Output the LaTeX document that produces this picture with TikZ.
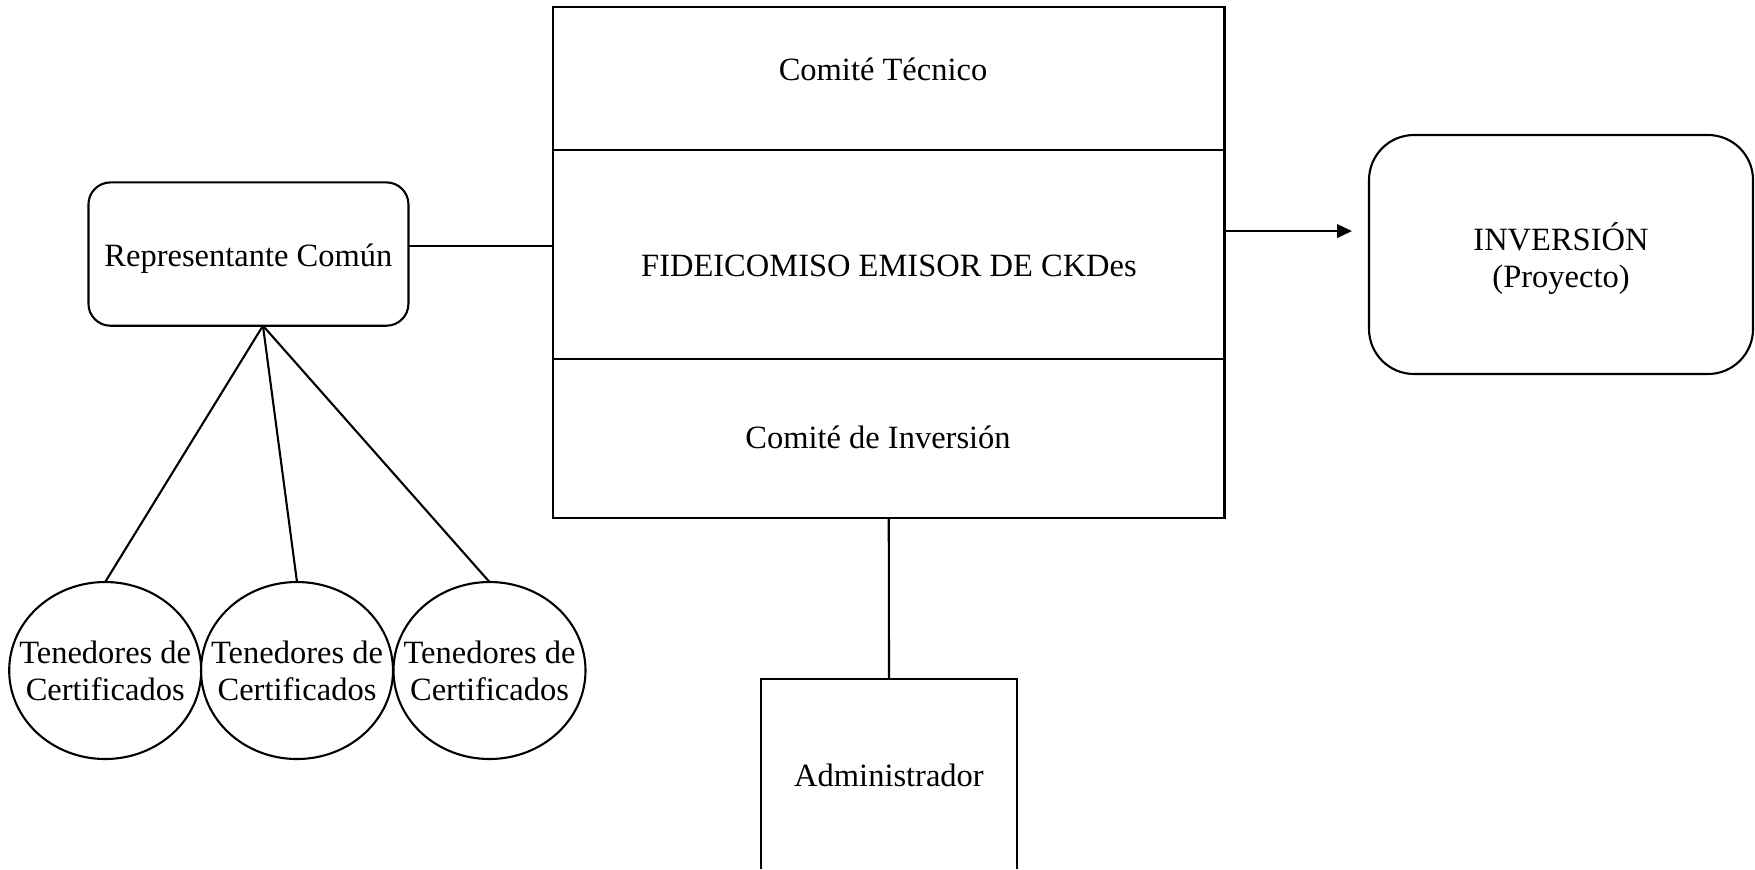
\documentclass[tikz,border=0pt]{standalone}
\usepackage{fontspec}
\setmainfont{Liberation Serif}
\usetikzlibrary{shapes.geometric,arrows.meta}
\begin{document}
\begin{tikzpicture}[x=0.5pt,y=-0.5pt,
  every node/.style={font=\fontsize{16.25pt}{18.5pt}\selectfont},
  cell/.style={draw,line width=1.05pt,inner sep=0pt,outer sep=0pt,minimum width=335.75pt},
  rbox/.style={draw,line width=1.05pt,inner sep=0pt,outer sep=0pt,align=center},
  holder/.style={draw,line width=1.05pt,ellipse,inner sep=0pt,outer sep=0pt,minimum width=96pt,minimum height=88.5pt},
  label/.style={inner sep=0pt,align=center},
  conn/.style={line width=1.05pt}]
\useasboundingbox (0,0) rectangle (1755,869);
% main trust block
\node[cell,minimum height=71.65pt] (ct) at (888.75,78.35) {};
\node[cell,minimum height=104.65pt] (fid) at (888.75,254.65) {};
\node[cell,minimum height=79.35pt] (ci) at (888.75,438.65) {};
\node[label,anchor=base] (ctt) at (883,80) {Comité Técnico};
\node[label,anchor=base] (fidt) at (889,276) {FIDEICOMISO EMISOR DE CKDes};
\node[label,anchor=base] (cit) at (878,448.3) {Comité de Inversión};
% representante
\node[rbox,rounded corners=11pt,minimum width=160pt,minimum height=71.65pt] (rep) at (248.45,254.05) {};
\node[label,anchor=base] (rept) at (248.45,266.7) {Representante Común};
% holders
\node[holder] (t1) at (105.2,670.5) {};
\node[holder] (t2) at (297,670.5) {};
\node[holder] (t3) at (489.5,670.5) {};
\node[label] (t1t) at (t1) {Tenedores de\\Certificados};
\node[label] (t2t) at (t2) {Tenedores de\\Certificados};
\node[label] (t3t) at (t3) {Tenedores de\\Certificados};
% inversion
\node[rbox,rounded corners=22.5pt,minimum width=192pt,minimum height=119.5pt] (inv) at (1561,254.5) {};
\node[label] (invt) at ([yshift=-1.8pt]inv.center) {INVERSIÓN\\(Proyecto)};
% administrador (box runs off the bottom edge)
\node[inner sep=0pt,outer sep=0pt,minimum width=128pt,minimum height=95pt] (adm) at (889,774) {};
\node[label,anchor=base] (admt) at (889,786.7) {Administrador};
\draw[conn] (adm.south west) |- (adm.north east) -- (adm.south east);
% connectors
\coordinate (repb) at ([xshift=7.25pt]rep.south);
\draw[conn] ([yshift=3.9pt]rep.east) -- ([yshift=3.9pt]rep.east -| fid.west);
\draw[conn] (repb) -- (t1.north);
\draw[conn] (repb) -- (t2.north);
\draw[conn] (repb) -- (t3.north);
\draw[conn] (ci.south) -- (adm.north);
\draw[conn,-{Triangle[length=7.5pt,width=6.8pt]},shorten >=8.5pt] ([yshift=11.8pt]fid.east) -- ([yshift=11.8pt]fid.east -| inv.west);
\end{tikzpicture}
\end{document}
